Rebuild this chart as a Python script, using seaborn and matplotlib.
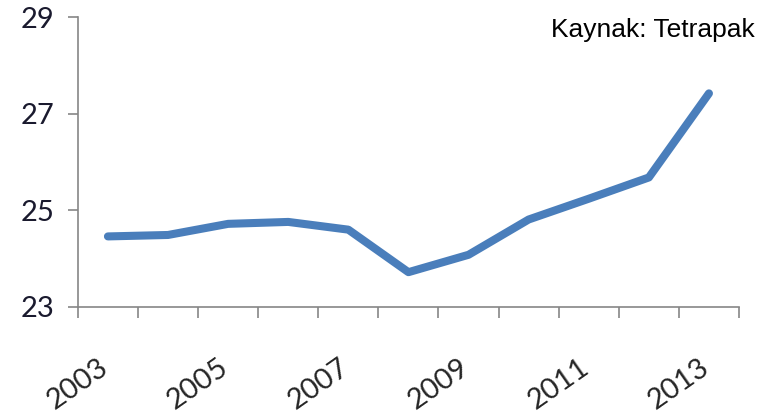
import matplotlib
matplotlib.use("Agg")
import matplotlib.pyplot as plt
import matplotlib.transforms as mtransforms
import seaborn as sns
import pandas as pd

# Data
years = [2003, 2004, 2005, 2006, 2007, 2008, 2009, 2010, 2011, 2012, 2013]
values = [24.46, 24.49, 24.72, 24.76, 24.60, 23.72, 24.08, 24.81, 25.24, 25.68, 27.42]
label_years = [2003, 2005, 2007, 2009, 2011, 2013]
y_ticks = [23, 25, 27, 29]

df = pd.DataFrame({"year": years, "value": values})

sns.set_style("white")
plt.rcParams["font.family"] = ["Lato", "DejaVu Sans"]

fig = plt.figure(figsize=(7.71, 4.18), dpi=100)
ax = fig.add_axes([0.101, 0.2656, 0.8575, 0.6937])

sns.lineplot(
    data=df, x="year", y="value", ax=ax,
    color="#4A7EBB", linewidth=5.8, solid_capstyle="round"
)

ax.set_xlim(years[0] - 0.5, years[-1] + 0.5)
ax.set_ylim(y_ticks[0], y_ticks[-1])

# category boundary tick marks (Excel style)
bounds = [y - 0.5 for y in years] + [years[-1] + 0.5]
ax.set_xticks(bounds)
ax.set_xticklabels([])
ax.set_xticks(label_years, minor=True)
ax.set_xticklabels([str(y) for y in label_years], minor=True,
                   rotation=35, ha="right", fontsize=21)
ax.tick_params(axis="x", which="major", direction="out", length=8,
               width=1.2, color="#868686", bottom=True)
ax.tick_params(axis="x", which="minor", length=0, pad=34)
shift = mtransforms.ScaledTranslation(5 / 100, 0, fig.dpi_scale_trans)
for lbl in ax.get_xticklabels(minor=True):
    lbl.set_transform(lbl.get_transform() + shift)

ax.set_yticks(y_ticks)
ax.set_yticklabels([str(v) for v in y_ticks], fontsize=21, color="#1a1a2e")
ax.tick_params(axis="y", direction="out", length=7, width=1.2,
               color="#868686", left=True, pad=10)

for side in ["top", "right"]:
    ax.spines[side].set_visible(False)
for side in ["left", "bottom"]:
    ax.spines[side].set_color("#868686")
    ax.spines[side].set_linewidth(1.2)

ax.set_xlabel("")
ax.set_ylabel("")

fig.text(0.979, 0.928, "Kaynak: Tetrapak", ha="right", va="center",
         fontsize=19, family=["Liberation Sans", "DejaVu Sans"], color="black")

fig.savefig("out.png", dpi=100)
